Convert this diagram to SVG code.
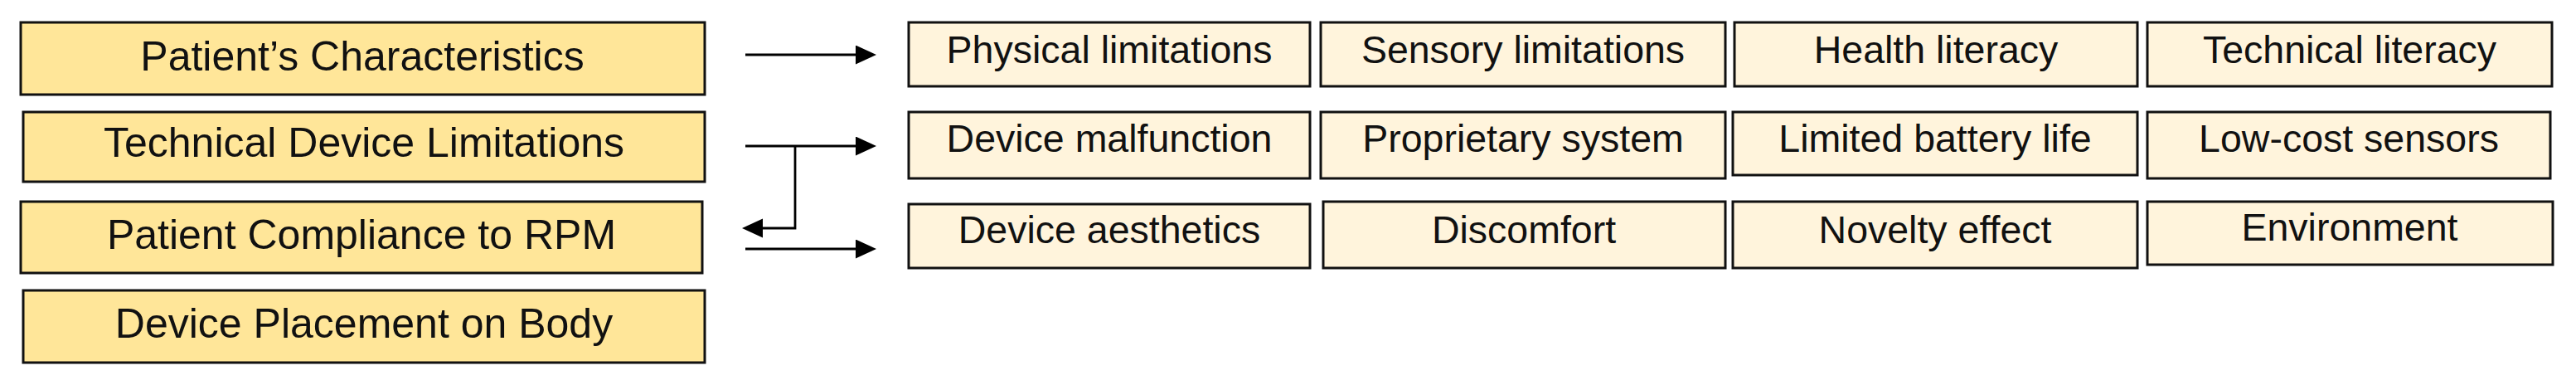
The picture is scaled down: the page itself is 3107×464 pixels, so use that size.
<svg xmlns="http://www.w3.org/2000/svg" width="3107" height="464" viewBox="0 0 3107 464">
<style>
.main rect{fill:#FFE699;stroke:#111;stroke-width:3}
.sub rect{fill:#FFF4DC;stroke:#111;stroke-width:3}
.main text{font-family:"Liberation Sans",Arial,sans-serif;font-size:50px;fill:#111;text-anchor:middle}
.sub text{font-family:"Liberation Sans",Arial,sans-serif;font-size:46.5px;fill:#111;text-anchor:middle}
.conn path{fill:none;stroke:#000;stroke-width:2.8}
</style>
<defs>
<marker id="ah" markerUnits="userSpaceOnUse" markerWidth="26" markerHeight="24" refX="3" refY="11.5" orient="auto">
<path d="M0,0 L25,11.5 L0,23 z" fill="#000"/>
</marker>
</defs>
<rect width="3107" height="464" fill="#fff"/>
<g id="n-patient-characteristics" class="main"><rect x="25" y="27" width="825" height="87"/><text x="437" y="85">Patient’s Characteristics</text></g>
<g id="n-technical-device-limitations" class="main"><rect x="28" y="135" width="822" height="84"/><text x="439" y="189">Technical Device Limitations</text></g>
<g id="n-patient-compliance" class="main"><rect x="25" y="243" width="822" height="86"/><text x="436" y="300">Patient Compliance to RPM</text></g>
<g id="n-device-placement" class="main"><rect x="28" y="350" width="822" height="87"/><text x="439" y="407">Device Placement on Body</text></g>

<g id="n-physical-limitations" class="sub"><rect x="1096" y="27" width="484" height="77"/><text x="1338" y="76">Physical limitations</text></g>
<g id="n-sensory-limitations" class="sub"><rect x="1593" y="27" width="488" height="77"/><text x="1837" y="76">Sensory limitations</text></g>
<g id="n-health-literacy" class="sub"><rect x="2092" y="27" width="486" height="77"/><text x="2335" y="76">Health literacy</text></g>
<g id="n-technical-literacy" class="sub"><rect x="2590" y="27" width="488" height="77"/><text x="2834" y="76">Technical literacy</text></g>

<g id="n-device-malfunction" class="sub"><rect x="1096" y="135" width="484" height="80"/><text x="1338" y="183">Device malfunction</text></g>
<g id="n-proprietary-system" class="sub"><rect x="1593" y="135" width="488" height="80"/><text x="1837" y="183">Proprietary system</text></g>
<g id="n-limited-battery-life" class="sub"><rect x="2090" y="135" width="488" height="76"/><text x="2334" y="183">Limited battery life</text></g>
<g id="n-low-cost-sensors" class="sub"><rect x="2590" y="135" width="486" height="80"/><text x="2833" y="183">Low-cost sensors</text></g>

<g id="n-device-aesthetics" class="sub"><rect x="1096" y="246" width="484" height="77"/><text x="1338" y="293">Device aesthetics</text></g>
<g id="n-discomfort" class="sub"><rect x="1596" y="243" width="485" height="80"/><text x="1838" y="293">Discomfort</text></g>
<g id="n-novelty-effect" class="sub"><rect x="2090" y="243" width="488" height="80"/><text x="2334" y="293">Novelty effect</text></g>
<g id="n-environment" class="sub"><rect x="2590" y="243" width="489" height="76"/><text x="2834" y="290">Environment</text></g>

<g id="connectors" class="conn">
<path d="M899,66 H1035" marker-end="url(#ah)"/>
<path d="M899,176 H1035" marker-end="url(#ah)"/>
<path d="M959,176 V275 H917" marker-end="url(#ah)"/>
<path d="M899,300 H1035" marker-end="url(#ah)"/>
</g>
</svg>
